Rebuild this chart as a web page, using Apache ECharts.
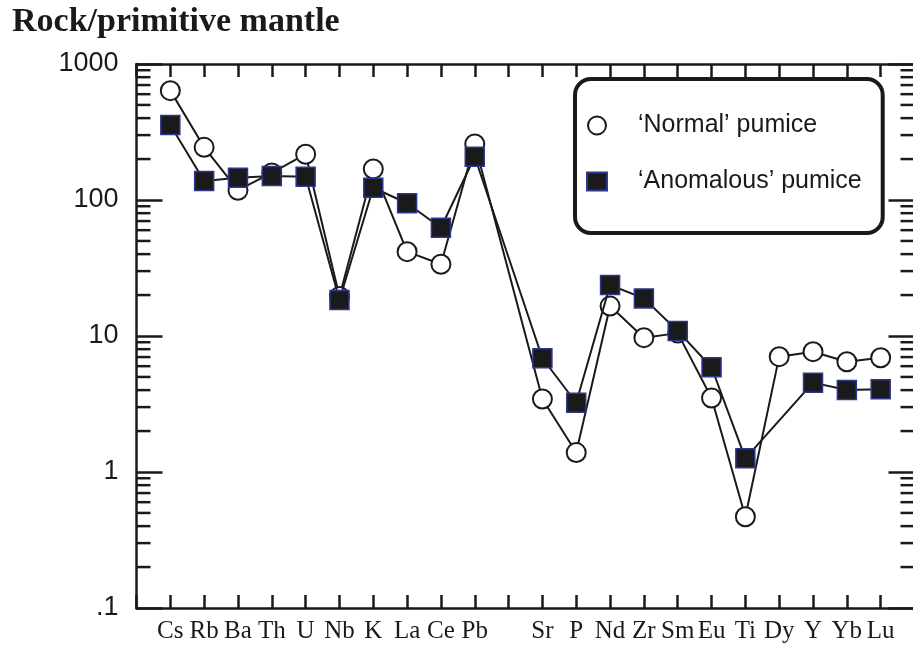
<!DOCTYPE html>
<html>
<head>
<meta charset="utf-8">
<script src="https://cdn.jsdelivr.net/npm/echarts@6/dist/echarts.min.js"></script>
<style>
html,body{margin:0;padding:0;background:#fff;}
#chart{width:913px;height:649px;}
</style>
</head>
<body>
<div id="chart"></div>
<script>
// Categories (blank slots at ends and between Pb and Sr)
const categories = ['', 'Cs','Rb','Ba','Th','U','Nb','K','La','Ce','Pb','', 'Sr','P','Nd','Zr','Sm','Eu','Ti','Dy','Y','Yb','Lu',''];
const normalPumice = [null, 637, 244, 118, 158, 217, 19.5, 169, 41.7, 33.7, 258, null, 3.44, 1.39, 16.6, 9.72, 10.5, 3.5, 0.469, 7.05, 7.67, 6.47, 6.92, null];
const anomalousPumice = [null, 356, 138, 146, 150, 148, 18.4, 123, 94.6, 62.5, 208, null, 6.86, 3.23, 23.7, 18.9, 10.9, 5.89, 1.26, null, 4.54, 4.01, 4.06, null];
const yTickLabels = {0.1: '.1', 1: '1', 10: '10', 100: '100', 1000: '1000'};
const minorTickValues = [];
[0.1, 1, 10, 100].forEach(function (d) { for (let k = 2; k <= 9; k++) minorTickValues.push(+(d * k).toPrecision(3)); });

const ink = '#1a1a1a';
const chart = echarts.init(document.getElementById('chart'));
const tickStyle = { color: ink, width: 2.5 };

chart.setOption({
  animation: false,
  title: {
    text: 'Rock/primitive mantle',
    left: 12, top: 5, padding: 0,
    textStyle: { fontFamily: 'Liberation Serif', fontWeight: 'bold', fontSize: 34, color: ink }
  },
  legend: {
    left: 575, top: 79,
    orient: 'vertical',
    padding: [34, 21, 39, 11],
    itemGap: 31,
    itemWidth: 20, itemHeight: 18,
    borderColor: ink, borderWidth: 4, borderRadius: 16,
    backgroundColor: '#fff',
    textStyle: { fontFamily: 'Liberation Sans', fontSize: 25, color: ink, padding: [0, 0, 0, 26] },
    data: [
      { name: '\u2018Normal\u2019 pumice', icon: 'circle' },
      { name: '\u2018Anomalous\u2019 pumice', icon: 'rect' }
    ]
  },
  grid: { left: 136.5, width: 778, top: 64, bottom: 41, containLabel: false, outerBoundsMode: 'none' },
  xAxis: [
    {
      type: 'category', data: categories, boundaryGap: false, position: 'bottom',
      axisLine: { lineStyle: tickStyle },
      axisTick: { inside: true, length: 13, interval: 0, lineStyle: tickStyle },
      axisLabel: { interval: 0, margin: 11, fontFamily: 'Liberation Serif', fontSize: 25, color: ink },
      splitLine: { show: false }
    },
    {
      type: 'category', data: categories, boundaryGap: false, position: 'top',
      axisLine: { lineStyle: tickStyle },
      axisTick: { inside: true, length: 13, interval: 0, lineStyle: tickStyle },
      axisLabel: { show: false },
      splitLine: { show: false }
    }
  ],
  yAxis: [
    {
      type: 'log', min: 0.1, max: 1000, logBase: 10, position: 'left',
      axisLine: { show: true, lineStyle: tickStyle },
      axisTick: { show: true, inside: true, length: 26, lineStyle: tickStyle },
      axisLabel: {
        margin: 18, fontFamily: 'Liberation Sans', fontSize: 27, color: ink,
        formatter: function (v) { const key = +(+v).toPrecision(3); return yTickLabels[key] !== undefined ? yTickLabels[key] : ''; }
      },
      splitLine: { show: false }
    },
    {
      type: 'log', min: 0.1, max: 1000, logBase: 10, position: 'right',
      axisLine: { show: true, lineStyle: tickStyle },
      axisTick: { show: true, inside: true, length: 26, lineStyle: tickStyle },
      axisLabel: { show: false },
      splitLine: { show: false }
    }
  ],
  series: [
    {
      type: 'custom', silent: true, clip: false, z: 1,
      xAxisIndex: 0, yAxisIndex: 0,
      data: minorTickValues.map(function (v) { return [0, v]; }),
      renderItem: function (params, api) {
        const y = api.coord([0, api.value(1)])[1];
        const cs = params.coordSys;
        return {
          type: 'group',
          children: [
            { type: 'line', shape: { x1: cs.x, y1: y, x2: cs.x + 14, y2: y }, style: { stroke: ink, lineWidth: 2.5 } },
            { type: 'line', shape: { x1: cs.x + cs.width, y1: y, x2: cs.x + cs.width - 14, y2: y }, style: { stroke: ink, lineWidth: 2.5 } }
          ]
        };
      }
    },
    {
      name: '\u2018Normal\u2019 pumice', type: 'line', data: normalPumice, connectNulls: true,
      symbol: 'circle', symbolSize: 19, z: 3,
      lineStyle: { color: ink, width: 2 },
      itemStyle: { color: '#fff', borderColor: ink, borderWidth: 2 }
    },
    {
      name: '\u2018Anomalous\u2019 pumice', type: 'line', data: anomalousPumice, connectNulls: true,
      symbol: 'rect', symbolSize: 19, z: 4,
      lineStyle: { color: ink, width: 2 },
      itemStyle: { color: ink, borderColor: '#2b3790', borderWidth: 1.5 }
    }
  ]
});
</script>
</body>
</html>
